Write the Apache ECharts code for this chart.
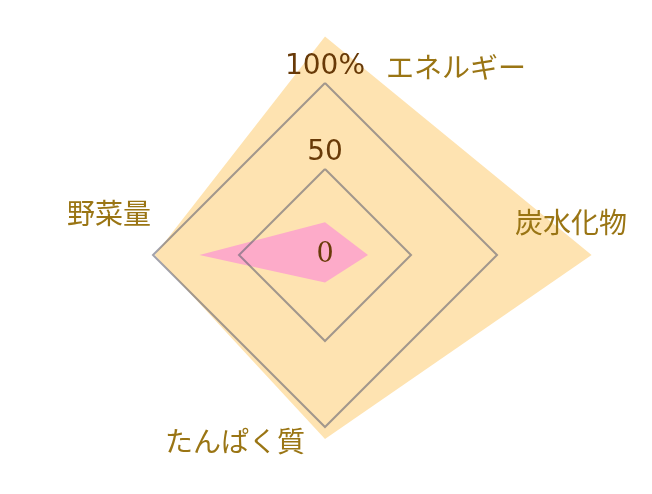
<!DOCTYPE html>
<html>
<head>
<meta charset="utf-8">
<style>
  html, body { margin: 0; padding: 0; background: #fff; }
  #chart { width: 652px; height: 494px; }
</style>
<script src="https://cdn.jsdelivr.net/npm/echarts@6/dist/echarts.min.js"></script>
</head>
<body>
<div id="chart"></div>
<script>
// 軸（反時計回り：上→左→下→右）
const indicators = ['エネルギー', '野菜量', 'たんぱく質', '炭水化物'];
const intake = [127, 99, 107, 155];   // オレンジ
const target = [19, 73, 16, 25];      // ピンク
const tickLabels = ['0', '50', '100%'];

const chart = echarts.init(document.getElementById('chart'));

// 名前の位置をずらすための rich スタイル
const nameRich = {
  n0: { padding: [0, 0, 2, 262] },
  n1: { padding: [0, 2, 84, 0] },
  n2: { padding: [0, 180, 0, 0] },
  n3: { padding: [0, 0, 66, 18] }
};

const option = {
  animation: false,
  radar: {
    center: [325, 255],
    radius: 172,
    shape: 'polygon',
    splitNumber: 2,
    z: 3,
    nameGap: 0,
    indicator: indicators.map((name, i) => {
      const ind = { name: name, min: 0, max: 100 };
      if (i === 0) {
        ind.axisLabel = {
          show: true,
          margin: 0,
          align: 'center',
          verticalAlign: 'middle',
          formatter: function (v) {
            const idx = Math.round(v / 50);
            return idx === 0 ? '{z|' + tickLabels[0] + '}' : '{a|' + tickLabels[idx] + '}';
          },
          rich: {
            z: { fontFamily: 'DejaVu Serif', fontSize: 27, color: '#683a08' },
            a: { fontFamily: 'DejaVu Sans', fontSize: 28, color: '#683a08', padding: [0, 0, 33, 0] }
          }
        };
      }
      return ind;
    }),
    axisName: {
      color: '#9a7514',
      fontSize: 28,
      fontFamily: 'Noto Sans CJK JP',
      formatter: function (name) {
        return '{n' + indicators.indexOf(name) + '|' + name + '}';
      },
      rich: nameRich
    },
    axisLine: { show: false },
    axisTick: { show: false },
    axisLabel: { show: false },
    splitArea: { show: false },
    splitLine: {
      lineStyle: { color: 'rgba(100,100,115,0.6)', width: 2 }
    }
  },
  series: [{
    type: 'radar',
    z: 2,
    symbol: 'none',
    lineStyle: { width: 0 },
    data: [
      { value: intake, areaStyle: { color: '#fee3b1', opacity: 1 } },
      { value: target, areaStyle: { color: '#fdabc9', opacity: 1 } }
    ]
  }]
};

chart.setOption(option);
</script>
</body>
</html>
